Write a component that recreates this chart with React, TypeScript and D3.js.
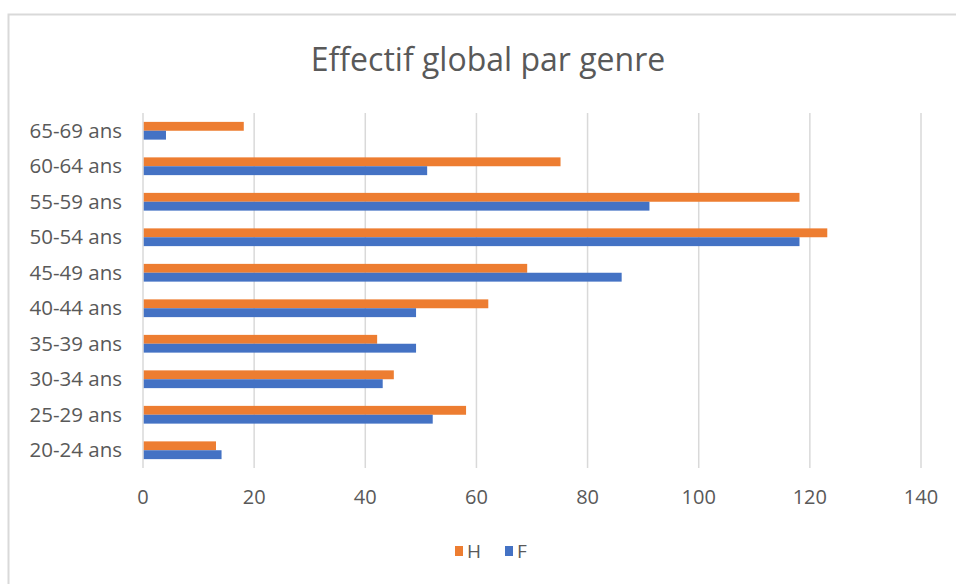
import React from "react";
import * as d3 from "d3";

const categories = ["65-69 ans", "60-64 ans", "55-59 ans", "50-54 ans", "45-49 ans", "40-44 ans", "35-39 ans", "30-34 ans", "25-29 ans", "20-24 ans"];
const valuesH = [18, 75, 118, 123, 69, 62, 42, 45, 58, 13];
const valuesF = [4, 51, 91, 118, 86, 49, 49, 43, 52, 14];
const seriesNames = ["H", "F"];
const seriesColors = ["#ED7D31", "#4472C4"];
const xTicks = [0, 20, 40, 60, 80, 100, 120, 140];
const title = "Effectif global par genre";

const W = 956;
const H = 584;
const FONT = "'Open Sans', 'Segoe UI', sans-serif";

export default function App() {
  const x = d3.scaleLinear().domain([0, 140]).range([143, 921]);
  const y = d3.scaleBand<string>().domain(categories).range([113, 468]).paddingInner(0.5).paddingOuter(0.25);
  const inner = d3.scaleBand<string>().domain(seriesNames).range([0, y.bandwidth()]);
  const series = [valuesH, valuesF];

  return (
    <svg width={W} height={H} style={{ position: "absolute", left: 0, top: 0, background: "#fff" }} fontFamily={FONT}>
      <rect x={8.5} y={14.5} width={W} height={H} fill="#fff" stroke="#d9d9d9" strokeWidth={2} />
      <text x={488} y={71} textAnchor="middle" fontSize={32} fill="#595959">{title}</text>
      {xTicks.map((t) => (
        <line key={t} x1={x(t)} x2={x(t)} y1={113} y2={468} stroke="#d9d9d9" strokeWidth={1.5} />
      ))}
      {series.map((vals, si) =>
        categories.map((c, i) => (
          <rect
            key={si + c}
            x={x(0) + 0.75}
            y={(y(c) as number) + (inner(seriesNames[si]) as number)}
            width={x(vals[i]) - x(0)}
            height={inner.bandwidth()}
            fill={seriesColors[si]}
          />
        ))
      )}
      {categories.map((c) => (
        <text key={c} x={122} y={(y(c) as number) + y.bandwidth() / 2} dy="0.35em" textAnchor="end" fontSize={20.5} fill="#595959">{c}</text>
      ))}
      {xTicks.map((t) => (
        <text key={t} x={x(t)} y={497} dy="0.35em" textAnchor="middle" fontSize={20} fill="#595959">{t}</text>
      ))}
      {seriesNames.map((n, i) => (
        <g key={n} transform={`translate(${455 + i * 50},546)`}>
          <rect x={0} y={0} width={8} height={10} fill={seriesColors[i]} />
          <text x={12} y={5} dy="0.35em" fontSize={19} fill="#595959">{n}</text>
        </g>
      ))}
    </svg>
  );
}
